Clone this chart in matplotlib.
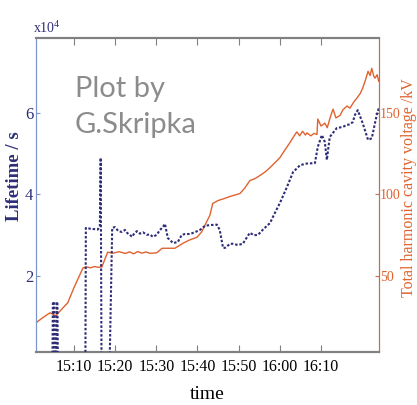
import matplotlib
matplotlib.use("Agg")
import matplotlib.pyplot as plt

plt.rcParams["mathtext.fontset"] = "stix"

# minutes after 15:00, total harmonic cavity voltage in kV
volt_t = [0.8, 2.5, 4.2, 5.6, 7.0, 8.5, 10.0, 12.2, 13.0, 14.0, 15.0, 16.0, 16.8, 18.2,
          19.5, 21.0, 22.5, 23.5, 24.5, 25.5, 26.5, 27.5, 28.5, 30.1, 31.4, 34.5, 36.5,
          38.0, 39.9, 41.0, 41.8, 43.0, 43.7, 45.0, 46.5, 47.9, 49.0, 50.3, 51.5, 52.7,
          54.0, 55.1, 56.5, 57.6, 59.0, 60.0, 61.0, 62.4, 63.2, 64.1, 64.8, 65.5, 66.2,
          66.6, 67.5, 68.3, 69.0, 69.2, 70.0, 70.9, 71.5, 72.3, 72.9, 73.6, 74.6, 75.3,
          76.3, 77.0, 78.0, 78.7, 79.5, 80.1, 80.8, 81.4, 81.9, 82.3, 82.8, 83.1, 83.6, 84.0]
volt_kv = [21.3, 24.5, 27.4, 25.6, 29.5, 33.5, 42.7, 54.9, 55.6, 55.0, 55.8, 55.3, 55.6, 64.6,
           64.0, 64.9, 63.8, 64.8, 63.6, 65.0, 64.0, 64.7, 63.9, 64.2, 67.0, 67.0, 70.1,
           72.0, 73.8, 77.0, 81.1, 87.2, 94.5, 96.3, 97.5, 98.8, 99.6, 100.6, 104.0, 108.5,
           109.8, 111.6, 114.0, 116.5, 120.0, 122.6, 126.5, 131.7, 135.0, 138.4, 136.0, 138.8, 136.5,
           137.8, 136.0, 137.5, 136.8, 146.3, 142.0, 143.8, 141.0, 148.0, 152.4, 147.0, 148.5, 152.0,
           154.3, 153.0, 157.0, 159.2, 162.0, 165.3, 170.5, 175.6, 173.0, 177.4, 172.5, 171.4, 173.5, 169.5]

# minutes after 15:00, beam lifetime in units of 1e4 s
life_t = [4.8, 4.9, 5.2, 5.3, 5.7, 5.8, 6.0, 6.1, 12.8, 12.9, 14.0, 15.0, 15.8, 16.3, 16.5,
          16.7, 18.7, 19.3, 19.95, 20.8, 21.65, 22.4, 23.0, 23.6, 24.1, 24.7, 25.3, 26.0,
          26.8, 27.7, 28.4, 29.2, 30.1, 30.9, 31.6, 32.1, 32.8, 33.4, 34.0, 35.2, 36.2, 37.0,
          38.2, 39.5, 40.6, 41.8, 43.0, 44.7, 45.4, 46.2, 46.7, 47.9, 48.6, 49.8, 51.0, 52.7,
          53.7, 54.7, 56.0, 57.6, 58.8, 60.0, 61.7, 63.2, 64.9, 66.5, 68.5, 69.2, 70.2, 70.9,
          71.4, 72.1, 73.8, 75.3, 76.3, 77.0, 77.7, 78.2, 78.9, 80.1, 81.4, 82.3, 83.5, 84.0]
life_val = [0, 1.36, 1.36, 0, 0, 1.36, 1.36, 0, 0, 3.18, 3.16, 3.15, 3.14, 3.22, 4.90,
            0, 0, 3.18, 3.20, 3.10, 3.08, 3.13, 3.05, 3.01, 2.96, 3.05, 3.10, 3.04,
            3.07, 3.01, 3.02, 2.96, 3.01, 3.13, 3.20, 3.28, 2.93, 2.88, 2.81, 2.83, 3.01, 3.03,
            3.03, 3.08, 3.13, 3.23, 3.25, 3.26, 3.13, 2.69, 2.69, 2.79, 2.79, 2.76, 2.79, 3.06,
            3.00, 3.01, 3.15, 3.30, 3.55, 3.79, 4.18, 4.55, 4.72, 4.76, 4.77, 5.17, 5.46, 5.29,
            4.85, 5.41, 5.63, 5.66, 5.71, 5.72, 5.78, 5.95, 6.07, 5.75, 5.34, 5.38, 5.95, 6.12]

x_ticks = [10, 20, 30, 40, 50, 60, 70]
x_labels = ["15:10", "15:20", "15:30", "15:40", "15:50", "16:00", "16:10"]

navy = "#2e2e78"
orange = "#e0622e"
serif = "Liberation Serif"

fig = plt.figure(figsize=(4.17, 4.05), dpi=100)
ax = fig.add_axes([0.0863, 0.131, 0.823, 0.775])
ax2 = ax.twinx()

ax.plot(life_t, life_val, color=navy, lw=1.5, ls=(0, (1.2, 0.9)), zorder=3)
ax2.plot(volt_t, volt_kv, color=orange, lw=1.0)
ax.set_zorder(ax2.get_zorder() + 1)
ax.patch.set_visible(False)

ax.set_xlim(0.8, 84.1)
ax.set_ylim(0.135, 7.84)
ax2.set_ylim(0.135 * 25, 7.84 * 25)

ax.set_xticks(x_ticks)
ax.set_xticklabels(x_labels, fontfamily=serif, fontsize=11.5)
ax.set_yticks([2, 4, 6])
ax.set_yticklabels(["2", "4", "6"], fontfamily=serif, fontsize=12, color=navy)
ax2.set_yticks([50, 100, 150])
ax2.set_yticklabels(["50", "100", "150"], fontfamily=serif, fontsize=10, color=orange)

ax.tick_params(axis="x", direction="in", length=5, width=0.8, color="#808080",
               top=True, pad=5)
ax.tick_params(axis="y", direction="in", length=3, color="#7a95cc", pad=2)
ax2.tick_params(axis="y", direction="in", length=3, color="#c0704f", pad=0.5)

for a in (ax, ax2):
    a.spines["top"].set_color("#808080")
    a.spines["bottom"].set_color("#808080")
    a.spines["top"].set_linewidth(1.5)
    a.spines["bottom"].set_linewidth(1.5)
    a.spines["left"].set_color("#7a95cc")
    a.spines["right"].set_color("#c0704f")

ax.set_xlabel("time", fontfamily=serif, fontsize=14, labelpad=8)

fig.text(15 / 417, 1 - 176 / 405, "Lifetime / s", fontfamily=serif, fontsize=13.5,
         fontweight="bold", color=navy, rotation=90, ha="center", va="center",
         rotation_mode="anchor")
fig.text(409 / 417, 1 - 188 / 405, "Total harmonic cavity voltage /kV", fontfamily=serif,
         fontsize=11.5, color=orange, rotation=90, ha="center", va="center",
         rotation_mode="anchor")

ax.text(-0.01, 1.008, r"x$\mathregular{10^4}$", transform=ax.transAxes, fontfamily=serif,
        fontsize=10, color=navy, ha="left", va="bottom")
ax.text(0.1137, 0.812, "Plot by", transform=ax.transAxes, fontfamily="Lato",
        fontsize=21, color="#8c8c8c", ha="left", va="baseline")
ax.text(0.1137, 0.697, "G.Skripka", transform=ax.transAxes, fontfamily="Lato",
        fontsize=21, color="#8c8c8c", ha="left", va="baseline")

fig.savefig("out.png", dpi=100)
